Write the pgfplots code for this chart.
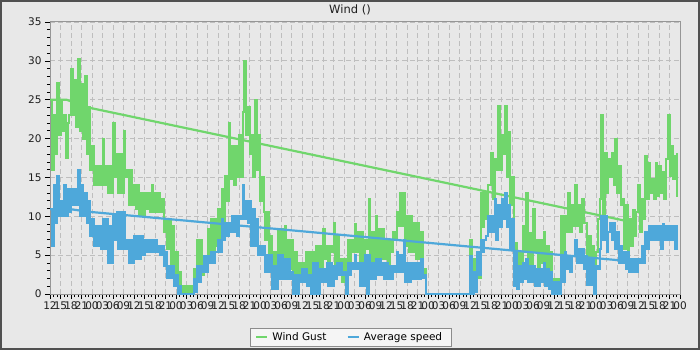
\documentclass[border=0pt]{standalone}
\usepackage{pgfplots}
\usepackage{pgfplotstable}
\pgfplotsset{compat=1.18}
\usepackage{fontspec}
\setmainfont{DejaVu Sans}
\definecolor{bgc}{RGB}{232,232,232}
\definecolor{framec}{RGB}{80,80,80}
\definecolor{axc}{RGB}{150,150,150}
\definecolor{gridc}{RGB}{190,190,190}
\definecolor{gustc}{RGB}{112,214,108}
\definecolor{avgc}{RGB}{78,168,218}
\definecolor{legfill}{RGB}{245,245,245}
\definecolor{legdraw}{RGB}{140,140,140}
\definecolor{txt}{RGB}{30,30,30}

\pgfplotstableread{
h g a
0 25 10.9
0.5 16 6.2
1.0 23 14
1.5 18 9.2
2.0 27.2 15.2
2.5 20.5 10
3.0 25 12
3.5 21 10
4.0 23 14
4.5 17.5 10
5.0 22 13.5
5.5 23 10.5
6.0 29 13.5
6.5 23 11.4
7.0 27.5 13.5
7.5 21.5 11.4
8.0 30.2 16
8.5 21 10
9.0 27 14
9.5 20 10
10.0 28 13
10.5 18 9.2
11.0 24 12
11.5 16 7.5
12.0 19 9.6
12.5 14 6.2
13.0 16.5 8.8
13.5 14 6.2
14.0 16.5 8.8
14.5 14 5.8
15.0 20 9.6
15.5 14 5.8
16.0 16.5 9.6
16.5 13 4
17.0 16.5 8.8
17.5 13 4
18.0 22 10
18.5 15 7
19.0 18 10.5
19.5 13 5.8
20.0 18 10.5
20.5 13 5.8
21.0 21 10.5
21.5 15 5.8
22.0 16 7
22.5 11.4 4
23.0 16 7
23.5 11.4 4
24.0 14 7.5
24.5 11 4.5
25.0 14 7.5
25.5 10 4.5
26.0 13 7.5
26.5 10 5
27.0 13 7
27.5 11 5.4
28.0 13 7
28.5 10.5 5.4
29.0 14 7
29.5 10.5 5.4
30.0 13 7
30.5 10.5 5.4
31.0 13 6.2
31.5 10.5 5
32.0 12.2 6.2
32.5 8 3.6
33.0 9.6 5.4
33.5 5.8 2
34.0 9.6 3.6
34.5 3.6 2
35.0 8.8 3.6
35.5 2 1
36.0 5.4 2.4
36.5 0 0
37.0 2.8 1
37.5 0 0
38.0 1 0
38.5 0 0
39.0 1 0
39.5 0 0
40.0 1 0
40.5 0 0
41.0 3.2 1.9
41.5 1 0.2
42.0 7 3.6
42.5 2.8 1.5
43.0 7 3.6
43.5 2.4 2.8
44.0 4.5 4.9
44.5 4 2.8
45.0 8.4 4.9
45.5 4 4
46.0 9.6 5.4
46.5 5.4 4
47.0 9.6 5.4
47.5 6.2 5.4
48.0 11 7
48.5 6.2 5.4
49.0 13.5 9.6
49.5 7 7
50.0 15.2 9.2
50.5 12 7.5
51.0 22 9.2
51.5 14.8 8
52.0 19 10
52.5 14 8
53.0 19 10
53.5 15 7.5
54.0 20.4 10
54.5 15 9.6
55.0 23.4 14
55.5 30 9.6
56.0 20.4 12
56.5 24 9.2
57.0 18 12
57.5 20.4 6.2
58.0 15 11
58.5 25 6.2
59.0 16 9.6
59.5 20.4 5
60.0 12 6.2
60.5 15 5
61.0 10.5 6.2
61.5 7 2.8
62.0 10.5 5
62.5 4 2.8
63.0 7.5 5
63.5 2.8 0.6
64.0 5.4 3.6
64.5 2.8 0.6
65.0 8.4 5
65.5 4 1.9
66.0 8.4 5
66.5 4.5 1.9
67.0 8.8 4.5
67.5 3.2 1.9
68.0 7 4.5
68.5 3.2 1.9
69.0 7 2.8
69.5 1.9 0
70.0 5.4 2.4
70.5 1 0
71.0 4 2.4
71.5 1.5 1.5
72.0 4 3.2
72.5 1.5 1.5
73.0 5.4 3.2
73.5 1.9 1
74.0 5.4 2.4
74.5 1.9 0
75.0 5.4 4
75.5 1.9 0
76.0 6.2 4
76.5 2.8 0
77.0 6.2 3.2
77.5 2.8 1.5
78.0 8.4 3.2
78.5 4.5 1.5
79.0 6.2 4
79.5 3.2 1
80.0 6.2 4
80.5 5.4 1
81.0 9.2 3.6
81.5 2.8 1.9
82.0 7.5 4
82.5 2.8 2.4
83.0 4.5 4
83.5 1.5 2.4
84.0 4.5 2.8
84.5 1.5 0
85.0 7 4
85.5 3.6 2.4
86.0 7 4
86.5 5.4 3.2
87.0 9 5
87.5 5.4 3.2
88.0 8 4
88.5 3.2 1
89.0 8 4
89.5 2 1
90.0 7 5
90.5 5.8 0
91.0 12.2 5
91.5 3.6 1.9
92.0 8 4
92.5 3.6 1.9
93.0 10 4.5
93.5 4.5 2.4
94.0 8.4 4.5
94.5 4.5 2.4
95.0 8.4 4
95.5 4.5 1.9
96.0 7 4
96.5 3.2 1.9
97.0 7 3.6
97.5 5.4 1.9
98.0 8 3.6
98.5 7 2.8
99.0 10.5 5.4
99.5 8.8 2.8
100.0 13 5
100.5 8.8 2.8
101.0 13 7
101.5 6.2 1.5
102.0 10 4
102.5 5.4 1.5
103.0 10 4
103.5 5.4 1.9
104.0 9.2 4
104.5 4.5 1.9
105.0 9.2 4
105.5 4.5 1.9
106.0 8 4.5
106.5 2.4 2.1
107.0 3.2 2.4
107.5 0 0
119.5 0 0
120.0 7 4.9
120.5 0.2 0
121.0 4.5 2.8
121.5 0.6 0.2
122.0 5.4 5.4
122.5 2 2.4
123.0 13 7
123.5 8.6 5.4
124.0 13 7
124.5 9.6 7.5
125.0 14 10
125.5 14 8
126.0 18.2 10
126.5 12.2 8
127.0 17.4 12.2
127.5 16 7
128.0 24.2 11.4
128.5 16 8.6
129.0 20.4 12.2
129.5 18 9.6
130.0 24.2 13
130.5 15 8.6
131.0 20.8 11.4
131.5 11.4 5.8
132.0 15 9.6
132.5 2.8 1
133.0 6.6 5.4
133.5 2 0.6
134.0 5.4 3.6
134.5 2.8 1.5
135.0 8.8 4
135.5 5.4 1.9
136.0 13 4.5
136.5 3.6 1.5
137.0 7.9 3.6
137.5 3.6 1.5
138.0 11 3.6
138.5 5.4 1
139.0 7 3.2
139.5 2.8 1
140.0 7 3.2
140.5 4 1.5
141.0 8 4
141.5 2.4 1
142.0 6.2 3.2
142.5 1.5 0.6
143.0 5.4 2.8
143.5 0 0
144.0 1.9 1.5
144.5 0 0
145.0 1.9 1.5
145.5 0 0
146.0 10 4.9
146.5 3.6 1.5
147.0 10 5.4
147.5 8 3.2
148.0 13 4.9
148.5 8 2.8
149.0 11.4 4.9
149.5 8.8 4.9
150.0 14 7
150.5 8.8 4
151.0 11.4 5.8
151.5 8 4
152.0 12.2 5.8
152.5 9.2 3.2
153.0 9.2 4.9
153.5 4 1.1
154.0 7.5 4.5
154.5 1.9 1.1
155.0 6.2 4.5
155.5 2 0
156.0 5.4 3.6
156.5 9.6 3.2
157.0 12.2 5.8
157.5 23 10
158.0 9.6 7
158.5 18.2 10
159.0 13 5.4
159.5 17.4 8
160.0 15 9.2
160.5 18.2 7
161.0 14 9.2
161.5 20 5.8
162.0 13 8
162.5 16.5 4
163.0 11.4 6.2
163.5 12.2 4
164.0 5.8 5.4
164.5 11.4 3.2
165.0 3.6 5.4
165.5 9.6 2.8
166.0 6.2 4.5
166.5 10.8 2.8
167.0 7.5 4.5
167.5 10.5 2.8
168.0 14 4.5
168.5 8 4
169.0 12.2 6.2
169.5 9.6 4
170.0 17.8 8
170.5 12.2 5.8
171.0 16.9 8.8
171.5 13 7
172.0 14.8 8.8
172.5 12.2 7
173.0 16.9 8.8
173.5 12.6 7
174.0 16.5 8.8
174.5 13 5.8
175.0 15.7 9
175.5 12.2 7
176.0 17.4 8.8
176.5 23 7
177.0 15.2 8.8
177.5 19 7
178.0 14.8 8.8
178.5 17.8 5.8
179.0 12.6 8.8
179.2 18.2 7
}\winddata

\begin{document}
\begin{tikzpicture}
\useasboundingbox (0,0) rectangle (700pt,350pt);
\fill[bgc] (0,0) rectangle (700pt,350pt);
\begin{axis}[
  at={(50pt,56pt)}, anchor=south west,
  scale only axis, width=630pt, height=272pt,
  xmin=0, xmax=180, ymin=0, ymax=35,
  axis background/.style={fill=bgc},
  axis line style={draw=axc, line width=1pt},
  xtick={0,3,...,180},
  xticklabels={12,15,18,21,00,03,06,09,12,15,18,21,00,03,06,09,12,15,18,21,00,03,06,09,12,15,18,21,00,03,06,09,12,15,18,21,00,03,06,09,12,15,18,21,00,03,06,09,12,15,18,21,00,03,06,09,12,15,18,21,00},
  ytick={0,5,...,35},
  minor x tick num=2, minor y tick num=4,
  tick align=outside, xtick pos=bottom, ytick pos=left,
  major tick length=5pt, minor tick length=3pt,
  tick style={draw=black, line width=0.7pt},
  xmajorgrids, ymajorgrids,
  major grid style={draw=gridc, line width=0.8pt, dash pattern=on 5pt off 3pt},
  ticklabel style={font=\fontsize{10.5}{12}\selectfont, text=txt},
  /pgf/number format/assume math mode=true,
  xticklabel style={inner sep=1pt, yshift=-2pt},
  legend style={at={(0.477,-0.158)}, anchor=center, draw=legdraw, fill=legfill,
    font=\fontsize{10.5}{12}\selectfont, legend columns=2, inner xsep=5pt, inner ysep=2pt,
    /tikz/every even column/.append style={column sep=16pt},
    nodes={inner xsep=4pt, inner ysep=2.5pt}},
  legend image code/.code={\draw[#1, line width=2.5pt] (0pt,0pt) -- (11pt,0pt);},
]
\addplot[gustc, line width=2pt, const plot] table[x=h, y=g] {\winddata};
\addlegendentry{Wind Gust}
\addplot[gustc, line width=2.2pt, forget plot] coordinates {(0,25) (4.7,25) (10.9,24) (165.7,9.3)};
\addplot[avgc, line width=2pt, const plot] table[x=h, y=a] {\winddata};
\addlegendentry{Average speed}
\addplot[avgc, line width=2.2pt, forget plot] coordinates {(0,10.9) (6.1,10.9) (10.6,10.6) (166,4.2)};
\end{axis}
\node[font=\fontsize{11.5}{13}\selectfont, text=txt] at (350pt,340pt) {Wind ()};
\draw[framec, line width=2pt] (1pt,1pt) rectangle (699pt,349pt);
\end{tikzpicture}
\end{document}
